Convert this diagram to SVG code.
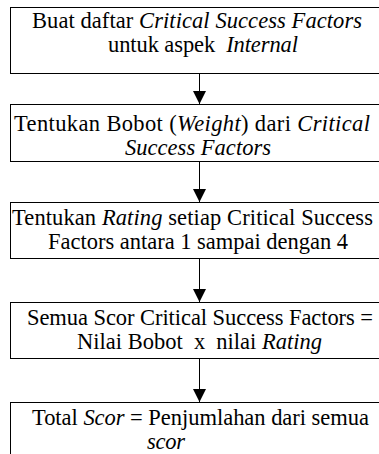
<svg xmlns="http://www.w3.org/2000/svg" width="379" height="454" viewBox="0 0 379 454">
<defs>
<style>
.box{fill:#fff;stroke:#000;stroke-width:1}
.c{stroke:#000;stroke-width:1;fill:none}
</style>
<marker id="ah" markerWidth="14" markerHeight="13" refX="13" refY="6.5" orient="auto" markerUnits="userSpaceOnUse">
<path d="M0,0 L13,6.5 L0,13 Z" fill="#000"/>
</marker>
</defs>
<rect width="379" height="454" fill="#fff"/>
<g id="connectors">
<line class="c" x1="199.5" y1="73" x2="199.5" y2="104" marker-end="url(#ah)"/>
<line class="c" x1="199.5" y1="161" x2="199.5" y2="202" marker-end="url(#ah)"/>
<line class="c" x1="199.5" y1="258" x2="199.5" y2="302" marker-end="url(#ah)"/>
<line class="c" x1="199.5" y1="358" x2="199.5" y2="402" marker-end="url(#ah)"/>
</g>
<g id="n1">
<rect class="box" x="10.5" y="7.5" width="380" height="66"/>
<text font-family="Liberation Serif, serif" font-size="22.5" x="32" y="28" textLength="330" lengthAdjust="spacing">Buat daftar <tspan font-style="italic">Critical Success Factors</tspan></text>
<text font-family="Liberation Serif, serif" font-size="22.5" x="108" y="52" textLength="190" lengthAdjust="spacing">untuk aspek&#160; <tspan font-style="italic">Internal</tspan></text>
</g>
<g id="n2">
<rect class="box" x="10.5" y="104.5" width="380" height="57"/>
<text font-family="Liberation Serif, serif" font-size="22.5" x="14" y="131" textLength="356" lengthAdjust="spacing">Tentukan Bobot (<tspan font-style="italic">Weight</tspan>) dari <tspan font-style="italic">Critical</tspan></text>
<text font-family="Liberation Serif, serif" font-size="22.5" font-style="italic" x="125" y="155" textLength="146" lengthAdjust="spacing">Success Factors</text>
</g>
<g id="n3">
<rect class="box" x="10.5" y="202.5" width="380" height="56"/>
<text font-family="Liberation Serif, serif" font-size="22.5" x="12" y="225" textLength="361" lengthAdjust="spacing">Tentukan <tspan font-style="italic">Rating</tspan> setiap Critical Success</text>
<text font-family="Liberation Serif, serif" font-size="22.5" x="48" y="249" textLength="300" lengthAdjust="spacing">Factors antara 1 sampai dengan 4</text>
</g>
<g id="n4">
<rect class="box" x="10.5" y="302.5" width="380" height="56"/>
<text font-family="Liberation Serif, serif" font-size="22.5" x="27" y="325" textLength="346" lengthAdjust="spacing">Semua Scor Critical Success Factors =</text>
<text font-family="Liberation Serif, serif" font-size="22.5" x="77" y="349" textLength="245" lengthAdjust="spacing">Nilai Bobot&#160; x&#160; nilai <tspan font-style="italic">Rating</tspan></text>
</g>
<g id="n5">
<rect class="box" x="10.5" y="402.5" width="380" height="60"/>
<text font-family="Liberation Serif, serif" font-size="22.5" x="32" y="425" textLength="337" lengthAdjust="spacing">Total <tspan font-style="italic">Scor</tspan> = Penjumlahan dari semua</text>
<text font-family="Liberation Serif, serif" font-size="22.5" font-style="italic" x="147" y="449" textLength="38" lengthAdjust="spacing">scor</text>
</g>
</svg>
